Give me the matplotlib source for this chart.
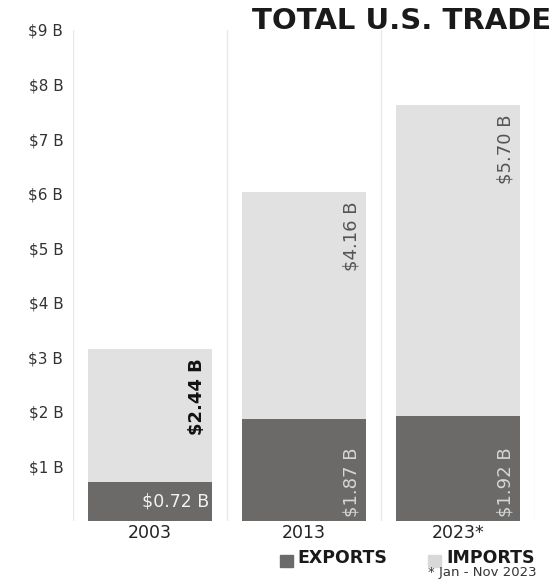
import matplotlib
matplotlib.use("Agg")
import matplotlib.pyplot as plt
from matplotlib.patches import Rectangle
from matplotlib.transforms import offset_copy

# data (billions of dollars)
years = ["2003", "2013", "2023*"]
exports = [0.72, 1.87, 1.92]
imports = [2.44, 4.16, 5.70]
y_ticks = [1, 2, 3, 4, 5, 6, 7, 8, 9]

export_color = "#6b6a69"
import_color = "#e1e1e1"
grid_color = "#e8e8e8"

plt.rcParams["font.family"] = ["DejaVu Sans"]

fig = plt.figure(figsize=(5.6, 5.81), dpi=100)
ax = fig.add_axes([0.1304, 0.1033, 0.825, 0.8451])

x = list(range(len(years)))
width = 0.8
ax.bar(x, exports, width=width, color=export_color, zorder=2)
ax.bar(x, imports, width=width, bottom=exports, color=import_color, zorder=2)

ax.set_xlim(-0.5, len(years) - 0.5)
ax.set_ylim(0, 9)

# vertical separators between the bars
ax.set_xticks([i - 0.5 for i in range(len(years) + 1)], minor=True)
ax.grid(which="minor", axis="x", color=grid_color, linewidth=1, zorder=0)
ax.tick_params(which="minor", length=0)

ax.set_xticks(x)
ax.set_xticklabels(years, fontsize=12.5, color="#222222")
ax.set_yticks(y_ticks)
ax.set_yticklabels([f"${v} B" for v in y_ticks], fontsize=11, color="#333333")
ax.tick_params(axis="both", which="major", length=0)
ax.tick_params(axis="x", pad=2)
ax.tick_params(axis="y", pad=7)
for s in ax.spines.values():
    s.set_visible(False)

# value labels
for i in x:
    right = i + width / 2
    top = exports[i] + imports[i]
    # imports label, rotated at the top of the bar
    tr = offset_copy(ax.transData, fig=fig, x=-4, y=-7, units="points")
    if i == 0:
        ax.text(right, top, f"${imports[i]:.2f} B", rotation=90, ha="right", va="top",
                fontsize=13, fontweight="bold", color="#111111", transform=tr, zorder=3)
    else:
        ax.text(right, top, f"${imports[i]:.2f} B", rotation=90, ha="right", va="top",
                fontsize=13, color="#555555", transform=tr, zorder=3)
    # exports label
    if i == 0:
        tr2 = offset_copy(ax.transData, fig=fig, x=-2, y=0, units="points")
        ax.text(right, exports[i] / 2, f"${exports[i]:.2f} B", ha="right", va="center",
                fontsize=12.5, color="#f2f2f2", transform=tr2, zorder=3)
    else:
        tr2 = offset_copy(ax.transData, fig=fig, x=-4, y=3, units="points")
        ax.text(right, 0, f"${exports[i]:.2f} B", rotation=90, ha="right", va="bottom",
                fontsize=13, color="#d6d6d6", transform=tr2, zorder=3)

# title
fig.text(0.985, 0.988, "TOTAL U.S. TRADE", ha="right", va="top",
         fontsize=21, fontweight="heavy", color="#1a1a1a")

# legend
fig.patches.append(Rectangle((0.500, 0.024), 0.023, 0.021, transform=fig.transFigure,
                             color=export_color))
fig.text(0.531, 0.024, "EXPORTS", ha="left", va="bottom", fontsize=12.5,
         fontweight="heavy", color="#1a1a1a")
imp_txt = fig.text(0.955, 0.024, "IMPORTS", ha="right", va="bottom", fontsize=12.5,
                   fontweight="heavy", color="#1a1a1a")
fig.canvas.draw()
bb = imp_txt.get_window_extent().transformed(fig.transFigure.inverted())
fig.patches.append(Rectangle((bb.x0 - 0.033, 0.024), 0.023, 0.021,
                             transform=fig.transFigure, color="#d8d8d8"))
fig.text(0.958, 0.026, "* Jan - Nov 2023", ha="right", va="top", fontsize=9.5,
         color="#333333")

fig.savefig("out.png", dpi=100)
